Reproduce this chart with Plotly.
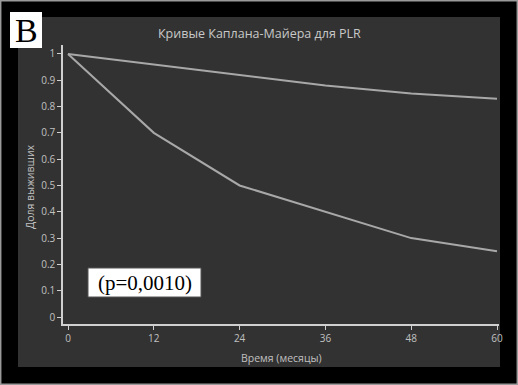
import plotly.graph_objects as go

months = [0, 12, 24, 36, 48, 60]
surv_high = [1.0, 0.96, 0.92, 0.88, 0.85, 0.83]
surv_low = [1.0, 0.70, 0.50, 0.40, 0.30, 0.25]
y_ticks = [0, 0.1, 0.2, 0.3, 0.4, 0.5, 0.6, 0.7, 0.8, 0.9, 1]
y_ticklabels = ["0", "0.1", "0.2", "0.3", "0.4", "0.5", "0.6", "0.7", "0.8", "0.9", "1"]
title_text = "Кривые Каплана-Майера для PLR"
x_title = "Время (месяцы)"
y_title = "Доля выживших"
p_text = "(p=0,0010)"
panel_label = "B"

W, H = 518, 385
L, R, T, B = 63, 19, 45, 61
PW = W - L - R
PH = H - T - B

fig = go.Figure()
line_col = "#a8a8a8"
for ys in (surv_high, surv_low):
    fig.add_trace(go.Scatter(x=months, y=ys, mode="lines",
                             line=dict(color=line_col, width=2),
                             cliponaxis=False, showlegend=False, hoverinfo="skip"))

def px(xp, yp):
    return (xp - L) / PW, (H - B - yp) / PH

shapes = []
# gray panel
x0, y1 = px(18, 17)
x1, y0 = px(500, 367)
shapes.append(dict(type="rect", xref="paper", yref="paper", x0=x0, x1=x1, y0=y0, y1=y1,
                   fillcolor="#323232", line=dict(width=0), layer="below"))
# outer border
ox0, oy1 = px(0.7, 0.7)
ox1, oy0 = px(W - 0.7, H - 0.7)
shapes.append(dict(type="rect", xref="paper", yref="paper", x0=ox0, x1=ox1, y0=oy0, y1=oy1,
                   fillcolor="rgba(0,0,0,0)", line=dict(color="#9a9a9a", width=1.5)))
# B label box
bx0, by1 = px(10, 12)
bx1, by0 = px(42, 48)
shapes.append(dict(type="rect", xref="paper", yref="paper", x0=bx0, x1=bx1, y0=by0, y1=by1,
                   fillcolor="white", line=dict(width=0)))
# p box
qx0, qy1 = px(88, 268)
qx1, qy0 = px(201, 297)
shapes.append(dict(type="rect", xref="paper", yref="paper", x0=qx0, x1=qx1, y0=qy0, y1=qy1,
                   fillcolor="white", line=dict(color="#555", width=1)))

tx, ty = px(259, 33)
xx, xy = px(281, 358)
yx, yy = px(30, 187)
annotations = [
    dict(text=panel_label, xref="paper", yref="paper", x=(bx0 + bx1) / 2, y=(by0 + by1) / 2,
         showarrow=False, font=dict(family="Liberation Serif", size=34, color="black"),
         xanchor="center", yanchor="middle"),
    dict(text=p_text, xref="paper", yref="paper", x=(qx0 + qx1) / 2, y=(qy0 + qy1) / 2,
         showarrow=False, font=dict(family="Liberation Serif", size=21, color="black"),
         xanchor="center", yanchor="middle"),
    dict(text=title_text, xref="paper", yref="paper", x=tx, y=ty,
         showarrow=False, font=dict(family="Open Sans", size=12.5, color="#c8c8c8"),
         xanchor="center", yanchor="middle"),
    dict(text=x_title, xref="paper", yref="paper", x=xx, y=xy,
         showarrow=False, font=dict(family="Open Sans", size=10.5, color="#c0c0c0"),
         xanchor="center", yanchor="middle"),
    dict(text=y_title, xref="paper", yref="paper", x=yx, y=yy, textangle=-90,
         showarrow=False, font=dict(family="Open Sans", size=10.5, color="#c0c0c0"),
         xanchor="center", yanchor="middle"),
]

fig.update_layout(
    width=W, height=H,
    margin=dict(l=L, r=R, t=T, b=B, pad=0),
    paper_bgcolor="black", plot_bgcolor="rgba(0,0,0,0)",
    shapes=shapes, annotations=annotations,
    xaxis=dict(range=[-0.7, 60.28], tickvals=months, ticktext=[str(m) for m in months],
               showgrid=False, zeroline=False, showline=True, linecolor="#d0d0d0", linewidth=1.5,
               ticks="outside", ticklen=4, tickcolor="#d0d0d0", tickwidth=1,
               tickfont=dict(family="Open Sans", size=10, color="#c0c0c0")),
    yaxis=dict(range=[-0.0266, 1.034], tickvals=y_ticks, ticktext=y_ticklabels,
               showgrid=False, zeroline=False, showline=True, linecolor="#d0d0d0", linewidth=1.5,
               ticks="outside", ticklen=4, tickcolor="#d0d0d0", tickwidth=1,
               tickfont=dict(family="Open Sans", size=10, color="#c0c0c0")),
)

fig.write_html("out.html", config={"displayModeBar": False},
               post_script="document.body.style.margin='0';document.body.style.background='black';")
